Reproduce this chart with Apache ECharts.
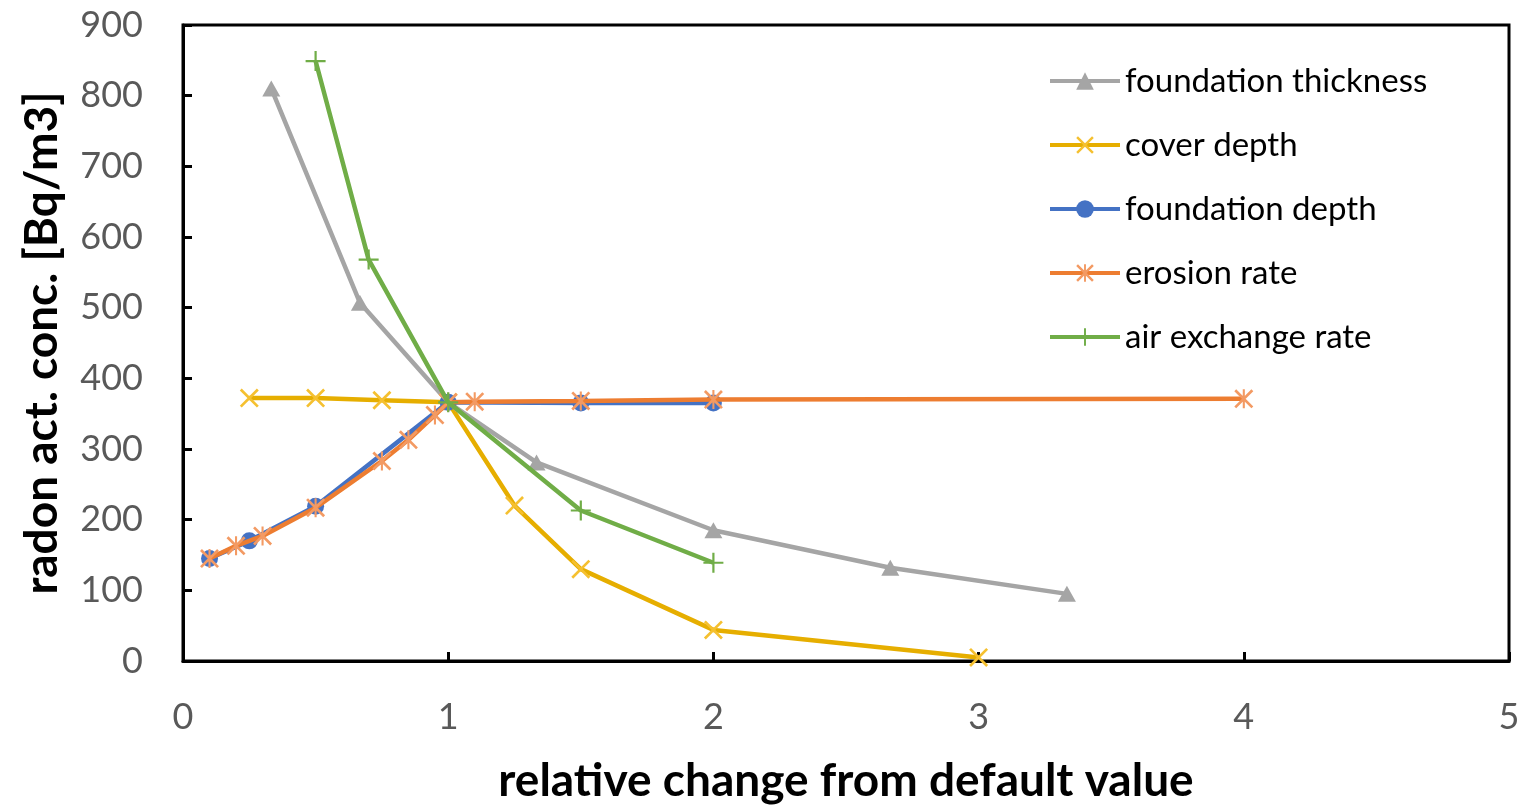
<!DOCTYPE html>
<html><head><meta charset="utf-8">
<script src="https://cdn.jsdelivr.net/npm/echarts@6/dist/echarts.min.js"></script>
<style>html,body{margin:0;padding:0;background:#fff}#c{width:1532px;height:809px}</style>
</head><body><div id="c"></div>
<script>
const seriesNames = ['foundation thickness','cover depth','foundation depth','erosion rate','air exchange rate'];
const thickX = [0.333,0.667,1,1.333,2,2.667,3.333];
const thickY = [810,507,366,281,185,132,95];
const coverX = [0.25,0.5,0.75,1,1.25,1.5,2,3];
const coverY = [372,372,369,366,220,130,44,5];
const depthX = [0.1,0.25,0.5,1,1.5,2];
const depthY = [145,170,219,366,365,365];
const erosionX = [0.1,0.2,0.3,0.5,0.75,0.85,0.95,1,1.1,1.5,2,4];
const erosionY = [145,163,177,217,283,313,348,366,367,368,370,371];
const airX = [0.5,0.7,1,1.5,2];
const airY = [849,568,366,213,139];
const xTicks = [0,1,2,3,4,5];
const yTicks = [0,100,200,300,400,500,600,700,800,900];

const colors = ['#A5A5A5','#E6AE00','#4472C4','#ED7D31','#70AD47'];
const markColors = ['#A5A5A5','#F5C030','#4472C4','#F39A63','#70AD47'];
const X_PATH = 'path://M0,1 L1,0 L10,9 L9,10 Z M9,0 L10,1 L1,10 L0,9 Z';
const STAR_PATH = 'path://M0,1 L1,0 L10,9 L9,10 Z M9,0 L10,1 L1,10 L0,9 Z M4.45,0 L5.55,0 L5.55,10 L4.45,10 Z';
const PLUS_PATH = 'path://M4.45,0 L5.55,0 L5.55,10 L4.45,10 Z M0,4.45 L10,4.45 L10,5.55 L0,5.55 Z';

const zip = (xs, ys) => xs.map((x, i) => [x, ys[i]]);
const datas = [zip(thickX,thickY), zip(coverX,coverY), zip(depthX,depthY), zip(erosionX,erosionY), zip(airX,airY)];
const symbols = ['triangle', X_PATH, 'circle', STAR_PATH, PLUS_PATH];
const sizes = [[18,16], 19, 17, 19, 20];

const FONT = 'Lato, "Open Sans", sans-serif';
const chart = echarts.init(document.getElementById('c'), null, {renderer:'canvas'});
chart.setOption({
  animation: false,
  backgroundColor: '#fff',
  grid: {left:183, right:23, top:25, bottom:145, show:true, borderColor:'#000', borderWidth:3, backgroundColor:'transparent'},
  legend: {
    orient:'vertical', left:1043, top:59, itemWidth:70, itemHeight:22, itemGap:30,
    data: seriesNames,
    lineStyle:{width:4},
    textStyle:{fontFamily:FONT, fontSize:33, color:'#000', lineHeight:34}
  },
  xAxis: {
    type:'value', min:0, max:5, interval:1,
    name:'relative change from default value', nameLocation:'middle', nameGap:97,
    nameTextStyle:{fontFamily:FONT, fontSize:46, fontWeight:'bold', color:'#000'},
    axisLine:{show:true, lineStyle:{color:'#000', width:3}},
    axisTick:{show:true, inside:true, length:9, lineStyle:{color:'#000', width:3}},
    axisLabel:{fontFamily:FONT, fontSize:36, color:'#595959', margin:38,
      formatter: v => xTicks.includes(v) ? String(v) : ''},
    splitLine:{show:false}
  },
  yAxis: {
    type:'value', min:0, max:900, interval:100,
    name:'radon act. conc. [Bq/m3]', nameLocation:'middle', nameGap:118,
    nameTextStyle:{fontFamily:FONT, fontSize:46, fontWeight:'bold', color:'#000'},
    axisLine:{show:true, lineStyle:{color:'#000', width:3}},
    axisTick:{show:true, inside:true, length:9, lineStyle:{color:'#000', width:3}},
    axisLabel:{fontFamily:FONT, fontSize:36, color:'#595959', margin:40,
      formatter: v => yTicks.includes(v) ? String(v) : ''},
    splitLine:{show:false}
  },
  series: seriesNames.map((n, i) => ({
    name:n, type:'line', data:datas[i], symbol:symbols[i], symbolSize:sizes[i], showSymbol:true,
    lineStyle:{color:colors[i], width:4.5},
    itemStyle:{color:markColors[i], borderWidth:0},
    z: 2 + i
  }))
});
</script></body></html>
